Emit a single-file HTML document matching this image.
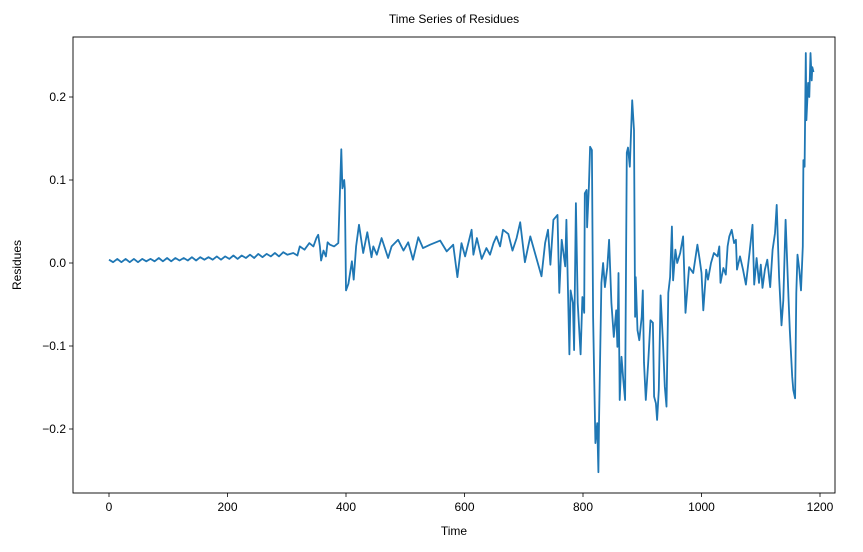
<!DOCTYPE html>
<html><head><meta charset="utf-8"><style>
body{margin:0;background:#fff;width:863px;height:547px;overflow:hidden}
svg{font-family:"Liberation Sans","DejaVu Sans",sans-serif}
</style></head><body>
<svg id="chart" width="863" height="547">
<rect x="0" y="0" width="863" height="547" fill="#fff"/>
<text x="454" y="23" font-size="12" text-anchor="middle">Time Series of Residues</text>
<text x="454" y="535" font-size="12" text-anchor="middle">Time</text>
<text x="21" y="265" font-size="12" text-anchor="middle" transform="rotate(-90 21 265)">Residues</text>
<g id="ticks"></g>
<path id="line" fill="none" stroke="#1f77b4" stroke-width="1.8" stroke-linejoin="round"/>
<rect x="73" y="37" width="762" height="456" fill="none" stroke="#000" stroke-width="0.9"/>
</svg>
<script>
const xTicks=[0,200,400,600,800,1000,1200];
const yTicks=[-0.2,-0.1,0.0,0.1,0.2];
const yTickLabels=["\u22120.2","\u22120.1","0.0","0.1","0.2"];
const time=[0,7,14,21,28,35,42,49,56,63,70,77,84,91,98,105,112,119,126,133,140,147,154,161,168,175,182,189,196,203,210,217,224,231,238,245,252,259,266,273,280,287,294,
301,311,318,322,330,338,345,350,353,356,358,362,366,369,373,380,387,392,394,397,398,400,404,410,413,417,422,429,436,443,446,452,460,471,477,488,497,505,513,522,530,542,559,570,581,588,595,601,612,615,621,629,637,643,649,654,660,665,674,681,688,694,702,
711,730,736,741,745,750,757,760,764,770,772,777,779,783,785,788,791,796,799,802,803,806,807,810,812,815,817,821,824,826,827,831,834,837,841,844,848,852,856,858,860,862,865,868,871,874,876,879,883,886,888,889,892,895,899,901,903,906,910,914,918,920,923,925,928,931,935,938,941,944,947,950,952,956,959,964,969,973,979,986,993,997,1000,1003,1008,1011,1016,1021,1027,1030,1032,1037,1041,1044,1047,1051,1055,1058,1060,1065,1070,1075,1081,1086,1089,1093,1097,1100,1103,1107,1111,1116,1120,1124,1127,1131,1135,1138,1142,1147,1149,1153,1155,1158,1160,1162,1165,1168,1171,1172,1174,1176,1177,1180,1182,1184,1186,1187,1189];
const residues=[0.004,0.001,0.005,0.001,0.005,0.001,0.005,0.001,0.005,0.002,0.005,0.002,0.006,0.002,0.006,0.002,0.006,0.003,0.006,0.003,0.007,0.003,0.007,0.004,0.007,0.004,0.008,0.004,0.008,0.005,0.009,0.005,0.009,0.006,0.010,0.006,0.011,0.007,0.011,0.008,0.012,0.008,0.013,
0.010,0.012,0.009,0.020,0.016,0.024,0.020,0.030,0.034,0.020,0.003,0.015,0.008,0.025,0.022,0.020,0.024,0.137,0.090,0.100,0.090,-0.033,-0.025,0.002,-0.020,0.020,0.046,0.012,0.037,0.007,0.020,0.010,0.030,0.006,0.020,0.028,0.015,0.025,0.004,0.031,0.018,0.022,0.027,0.014,0.022,-0.017,0.024,0.008,0.040,0.010,0.030,0.005,0.018,0.010,0.024,0.032,0.020,0.040,0.035,0.015,0.030,0.049,0.001,
0.032,-0.016,0.024,0.040,-0.002,0.052,0.058,-0.036,0.028,-0.004,0.052,-0.110,-0.033,-0.048,-0.105,0.072,-0.048,-0.110,-0.041,-0.060,0.084,0.088,0.043,0.092,0.140,0.136,-0.065,-0.217,-0.193,-0.252,-0.193,-0.024,0.000,-0.029,-0.005,0.028,-0.048,-0.089,-0.057,-0.101,-0.012,-0.165,-0.113,-0.141,-0.165,0.133,0.139,0.116,0.196,0.160,-0.065,-0.017,-0.081,-0.093,-0.065,-0.033,-0.120,-0.165,-0.120,-0.069,-0.072,-0.161,-0.169,-0.189,-0.153,-0.039,-0.096,-0.149,-0.173,-0.036,-0.017,0.044,-0.021,0.016,0.000,0.012,0.032,-0.060,-0.005,-0.012,0.022,0.004,-0.012,-0.057,-0.008,-0.020,0.000,0.012,0.008,0.020,-0.024,-0.006,-0.014,0.020,0.032,0.040,0.024,0.028,-0.008,0.008,-0.008,-0.026,0.012,0.046,-0.026,0.006,-0.024,-0.002,-0.030,-0.008,0.004,-0.029,0.016,0.036,0.070,-0.017,-0.075,-0.045,0.052,-0.045,-0.081,-0.137,-0.153,-0.163,-0.036,0.010,-0.008,-0.033,0.020,0.124,0.116,0.253,0.172,0.217,0.200,0.253,0.220,0.236,0.230];
const X0=73,X1=835,Y0=37,Y1=493;
function xs(t){return 109+(t-0)*(820-109)/1200;}
function ys(v){return 263-v*830;}
const NS='http://www.w3.org/2000/svg';
const g=document.getElementById('ticks');
function mk(tag,attrs){const e=document.createElementNS(NS,tag);for(const k in attrs)e.setAttribute(k,attrs[k]);g.appendChild(e);return e;}
xTicks.forEach(t=>{
  const x=xs(t);
  const l=mk('line',{x1:x,x2:x,y1:Y1,y2:Y1+4,stroke:'#000','stroke-width':0.8});
  
  
  const tx=mk('text',{x:x,y:Y1+18,'font-size':12,'text-anchor':'middle'});
  tx.textContent=String(t);
  
  
});
yTicks.forEach((v,i)=>{
  const y=ys(v);
  const l=mk('line',{x1:X0-4,x2:X0,y1:y,y2:y,stroke:'#000','stroke-width':0.8});
  
  
  const tx=mk('text',{x:X0-7,y:y+4,'font-size':12,'text-anchor':'end'});
  tx.textContent=yTickLabels[i];
  
  
});
let d='';
time.forEach((t,i)=>{d+=(i?'L':'M')+xs(t).toFixed(1)+' '+ys(residues[i]).toFixed(1);});
document.getElementById('line').setAttribute('d',d);
</script>
</body></html>
